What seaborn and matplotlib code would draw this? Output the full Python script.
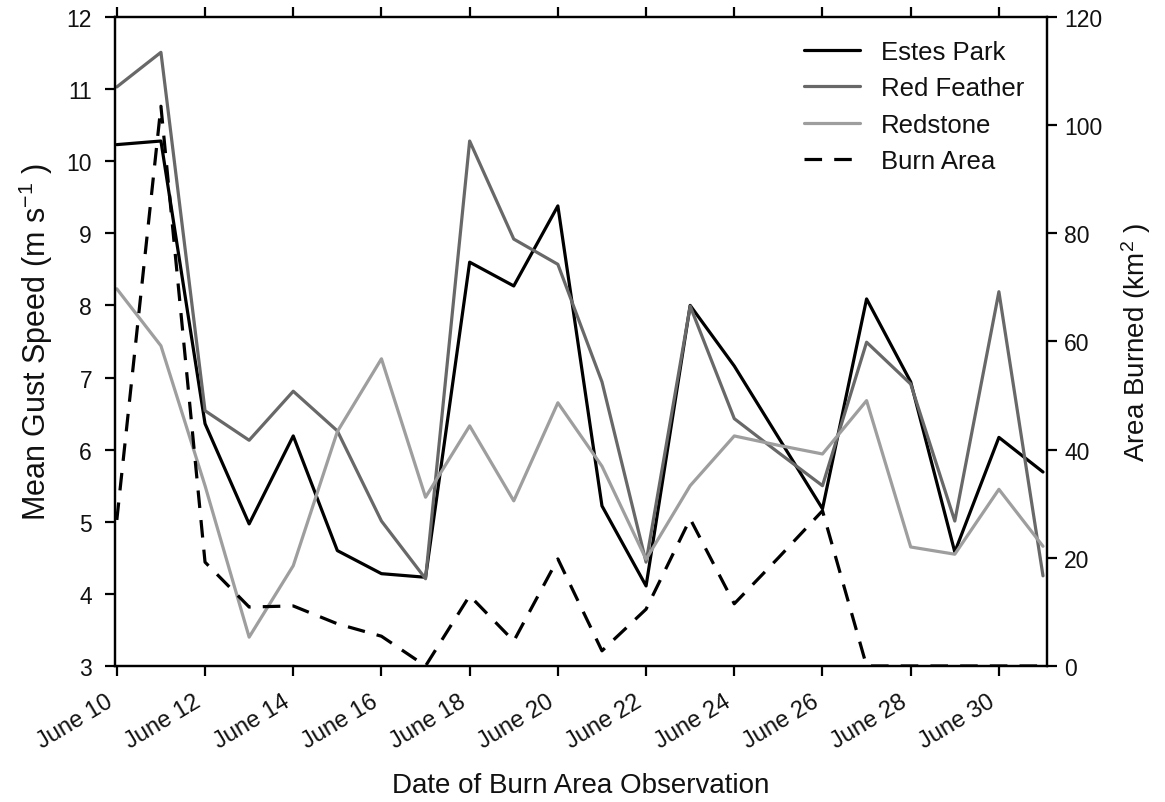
"""
Mean gust speed at three stations vs. daily burn area
"""

import numpy as np
import matplotlib
matplotlib.use('Agg')
import matplotlib.pyplot as plt
import matplotlib.dates as mdates
import seaborn as sns
import pandas as pd

# Observation dates (June 10 - July 1)
dates = pd.date_range('2012-06-10', '2012-07-01', freq='D')

estes_park = [10.23, 10.28, 6.36, 4.97, 6.19, 4.60, 4.28, 4.23, 8.60, 8.27, 9.38,
              5.22, 4.11, 8.00, 7.16, 6.17, 5.18, 8.09, 6.94, 4.58, 6.17, 5.69]
red_feather = [11.03, 11.51, 6.54, 6.13, 6.81, 6.26, 5.01, 4.21, 10.28, 8.92, 8.57,
               6.94, 4.44, 7.99, 6.43, 5.96, 5.50, 7.49, 6.91, 5.01, 8.19, 4.25]
redstone = [8.23, 7.44, 5.50, 3.40, 4.39, 6.25, 7.26, 5.34, 6.33, 5.29, 6.65,
            5.77, 4.48, 5.50, 6.19, 6.06, 5.94, 6.68, 4.65, 4.55, 5.45, 4.66]
burn_area = [27, 103.5, 19.2, 10.9, 11.1, 7.8, 5.5, 0, 13, 4.6, 19.8,
             2.8, 10.5, 27.2, 11.5, 20, 28.7, 0, 0, 0, 0, 0]

stations = {'Estes Park': (estes_park, '#000000'),
            'Red Feather': (red_feather, '#686868'),
            'Redstone': (redstone, '#9e9e9e')}

sns.set_style('ticks')
plt.rcParams['font.family'] = ['Liberation Sans', 'DejaVu Sans']
plt.rcParams['mathtext.default'] = 'regular'
plt.rcParams['text.color'] = '#111111'
plt.rcParams['axes.labelcolor'] = '#111111'

fig = plt.figure(figsize=(11.65, 8.03), dpi=100)
ax = fig.add_axes([0.0987, 0.1694, 0.8, 0.8082])

for name, (vals, col) in stations.items():
    sns.lineplot(x=dates, y=vals, ax=ax, color=col, lw=2.3, label=name)

ax2 = ax.twinx()
sns.lineplot(x=dates, y=burn_area, ax=ax2, color='black', lw=2.3, label='Burn Area')
ax2.lines[0].set_dashes((5.5, 3.8))

ax.set_ylim(3, 12)
ax.set_yticks(np.arange(3, 13, 1))
ax2.set_ylim(0, 120)
ax2.set_yticks(np.arange(0, 121, 20))
ax.set_xlim(pd.Timestamp('2012-06-09 23:00'), pd.Timestamp('2012-07-01 02:10'))
ax.xaxis.set_major_locator(mdates.DayLocator(bymonthday=range(10, 31, 2)))
ax.xaxis.set_major_formatter(mdates.DateFormatter('%B %-d'))

for a in (ax, ax2):
    for sp in a.spines.values():
        sp.set_visible(True)
        sp.set_linewidth(1.6)
        sp.set_color('black')
    a.tick_params(labelsize=16.5, length=7.5, width=1.6, color='black',
                  labelcolor='#111111', direction='out')
ax.tick_params(axis='x', top=True, pad=10, labelsize=17)
ax.tick_params(axis='y', pad=9)
ax2.tick_params(axis='y', pad=5)
plt.setp(ax.get_xticklabels(), rotation=31, ha='right')

ax.set_xlabel('Date of Burn Area Observation', fontsize=20, labelpad=14)
ax.set_ylabel('Mean Gust Speed (m s$^{-1}$ )', fontsize=22, labelpad=8)
ax2.set_ylabel('Area Burned (km$^2$ )', fontsize=20, labelpad=12)

h1, l1 = ax.get_legend_handles_labels()
h2, l2 = ax2.get_legend_handles_labels()
if ax2.get_legend():
    ax2.get_legend().remove()
ax.legend(h1 + h2, l1 + l2, loc='upper right', frameon=False, fontsize=18.5,
          handlelength=2.2, handletextpad=0.8, labelspacing=0.48)

fig.savefig('out.png', dpi=100)
plt.close(fig)
